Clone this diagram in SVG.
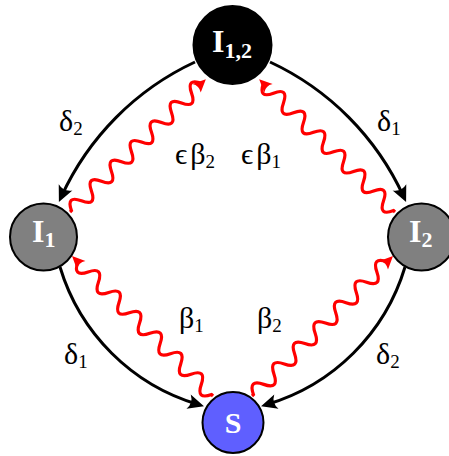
<svg xmlns="http://www.w3.org/2000/svg" xmlns:xlink="http://www.w3.org/1999/xlink" width="449" height="456" viewBox="0 0 449 456">
<style>
.node{stroke:#000;stroke-width:2}
.lbl{font-family:"Liberation Serif","DejaVu Serif",serif;fill:#fff;font-weight:bold}
.elbl{font-family:"Liberation Serif","DejaVu Serif",serif;fill:#000;font-size:30px}
.sub{font-size:19px}
.arc{fill:none;stroke:#000;stroke-width:3;marker-end:url(#ah)}
.snake{fill:none;stroke:#f00;stroke-width:3.2;marker-end:url(#rh)}
</style>
<defs>
<marker id="ah" markerUnits="userSpaceOnUse" viewBox="-11 -9 18 18" markerWidth="18" markerHeight="18" refX="0" refY="0" orient="auto">
<path d="M6,0 L-10,-7.5 Q-5,0 -10,7.5 Z" fill="#000"/>
</marker>
<marker id="rh" markerUnits="userSpaceOnUse" viewBox="-9 -8 16 16" markerWidth="16" markerHeight="16" refX="0" refY="0" orient="auto">
<path d="M5,0 L-8,-6 Q-4,0 -8,6 Z" fill="#f00"/>
</marker>
<path id="snA" class="snake" d="M0,0 h2 q7,-15 14,0 t14,0 t14,0 t14,0 t14,0 t14,0 t14,0 t14,0 t14,0 t14,0 t14,0 t14,0 t14,0 h1"/>
<path id="snB" class="snake" d="M0,0 h2 q7.25,-15 14.5,0 t14.5,0 t14.5,0 t14.5,0 t14.5,0 t14.5,0 t14.5,0 t14.5,0 t14.5,0 t14.5,0 t14.5,0 t14.5,0 t14.5,0 h3.2"/>
</defs>
<g id="nodes">
<g id="I12"><circle class="node" cx="232.5" cy="45" r="39" fill="#000"/>
<text class="lbl" font-size="32" x="212" y="52">I<tspan font-size="22" y="58">1,2</tspan></text></g>
<g id="I1"><circle class="node" cx="43.5" cy="237" r="33.5" fill="#808080"/>
<text class="lbl" font-size="32" x="32" y="242">I<tspan font-size="22" y="247">1</tspan></text></g>
<g id="I2"><circle class="node" cx="421.5" cy="237" r="33.5" fill="#808080"/>
<text class="lbl" font-size="32" x="409" y="242">I<tspan font-size="22" y="247">2</tspan></text></g>
<g id="S"><circle class="node" cx="233" cy="422.5" r="30.5" fill="#5f5fff"/>
<text class="lbl" font-size="30" x="233" y="433" text-anchor="middle">S</text></g>
</g>
<g id="connectors">
<path class="arc" d="M195,62 A274,274 0 0 0 61.4,196.5"/>
<path class="arc" d="M270,62 A274,274 0 0 1 403.6,196.5"/>
<path class="arc" d="M60,267 A205,205 0 0 0 198.2,404.5"/>
<path class="arc" d="M405,267 A205,205 0 0 1 266.8,404.5"/>
<use xlink:href="#snA" transform="translate(70,212) rotate(-44.36)"/>
<use xlink:href="#snA" transform="translate(395,212) rotate(-135.64)"/>
<use xlink:href="#snB" transform="translate(213,396) rotate(-135.2)"/>
<use xlink:href="#snB" transform="translate(252,396) rotate(-44.8)"/>
</g>
<g id="labels">
<text class="elbl" x="59" y="131">δ<tspan class="sub" y="135">2</tspan></text>
<text class="elbl" x="175" y="164">ϵ<tspan dx="3">β</tspan><tspan class="sub" y="168">2</tspan></text>
<text class="elbl" x="241" y="164">ϵ<tspan dx="3">β</tspan><tspan class="sub" y="168">1</tspan></text>
<text class="elbl" x="377" y="131">δ<tspan class="sub" y="135">1</tspan></text>
<text class="elbl" x="179" y="328">β<tspan class="sub" y="332">1</tspan></text>
<text class="elbl" x="64" y="364">δ<tspan class="sub" y="368">1</tspan></text>
<text class="elbl" x="257" y="328">β<tspan class="sub" y="332">2</tspan></text>
<text class="elbl" x="376" y="364">δ<tspan class="sub" y="368">2</tspan></text>
</g>
</svg>
